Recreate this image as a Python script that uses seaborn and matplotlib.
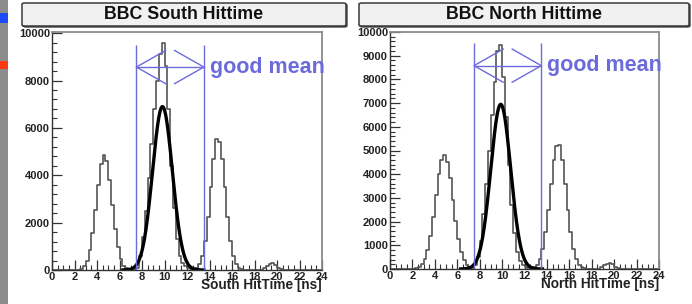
import numpy as np
import pandas as pd
import seaborn as sns
import matplotlib.pyplot as plt
from matplotlib.patches import FancyBboxPatch, Rectangle
from matplotlib.ticker import MultipleLocator

W, H = 692, 304

# histogram binning: 0.25 ns bins from 0 to 24 ns
BIN_WIDTH = 0.25
BIN_CENTERS = np.arange(96) * BIN_WIDTH + BIN_WIDTH / 2

SOUTH_COUNTS = [
    0, 0, 0, 0, 0, 0, 0, 0,                          # 0-2 ns
    0, 0, 40, 150, 390, 840, 1550, 2530,             # 2-4
    3600, 4470, 4850, 4590, 3800, 2750, 1740, 960,   # 4-6
    460, 190, 70, 25, 8, 10, 100, 600,               # 6-8
    1400, 2500, 3900, 5300, 6800, 8000, 9100, 9600,  # 8-10
    8600, 6800, 4400, 2600, 1300, 600, 300, 150,     # 10-12
    80, 40, 45, 100, 243, 590, 1230, 2240,           # 12-14
    3500, 4700, 5550, 5400, 4700, 3500, 2240, 1230,  # 14-16
    590, 243, 86, 26, 8, 0, 0, 0,                    # 16-18
    0, 0, 20, 80, 170, 260, 280, 200,                # 18-20
    90, 30, 0, 0, 0, 0, 0, 0,                        # 20-22
    0, 0, 0, 0, 0, 0, 0, 0,                          # 22-24
]

NORTH_COUNTS = [
    0, 0, 0, 0, 0, 0, 0, 0,                          # 0-2 ns
    0, 30, 82, 195, 416, 803, 1398, 2199,            # 2-4
    3115, 3990, 4605, 4800, 4510, 3830, 2930, 2025,  # 4-6
    1262, 710, 361, 165, 68, 60, 170, 520,           # 6-8
    1200, 2300, 3600, 5000, 6500, 7900, 9200, 9450,  # 8-10
    8100, 6400, 4400, 2700, 1500, 700, 330, 160,     # 10-12
    80, 60, 40, 67, 177, 412, 848, 1550,             # 12-14
    2510, 3600, 4580, 5200, 5250, 4580, 3600, 2510,  # 14-16
    1550, 848, 412, 177, 67, 22, 0, 0,               # 16-18
    0, 0, 20, 70, 150, 230, 260, 200,                # 18-20
    100, 30, 0, 0, 0, 0, 0, 0,                       # 20-22
    0, 0, 0, 0, 0, 0, 0, 0,                          # 22-24
]

# gaussian fit parameters: amplitude, mean, sigma, fit range
SOUTH_FIT = (6900, 9.82, 0.88, 6.3, 13.5)
NORTH_FIT = (6950, 9.88, 0.89, 6.3, 13.6)

# "good mean" window
CUT_LO, CUT_HI = 7.5, 13.5

TITLES = ["BBC South Hittime", "BBC North Hittime"]
XLABELS = ["South HitTime [ns]", "North HitTime [ns]"]

BLUE = "#6b6bdc"

plt.rcParams['font.family'] = ['Liberation Sans', 'DejaVu Sans']


def px_rect(x0, y0, x1, y1):
    """pixel box (top-left origin) -> figure fraction rect"""
    return [x0 / W, 1 - y1 / H, (x1 - x0) / W, (y1 - y0) / H]


def draw_panel(ax, counts, fit, ymax, ymajor, yminor, arrow_y, top_y, xlabel):
    df = pd.DataFrame({"t": BIN_CENTERS, "n": counts})
    sns.histplot(data=df, x="t", weights="n", binwidth=BIN_WIDTH, binrange=(0, 24),
                 element="step", fill=False, color="#555555", linewidth=1.2, ax=ax)

    amp, mean, sigma, lo, hi = fit
    t = np.linspace(lo, hi, 400)
    g = amp * np.exp(-0.5 * ((t - mean) / sigma) ** 2)
    sns.lineplot(x=t, y=g, color="black", linewidth=2.4, ax=ax)

    # cut window with double arrow
    ax.vlines([CUT_LO, CUT_HI], 0, top_y, color=BLUE, linewidth=1.0)
    ax.plot([CUT_LO, CUT_HI], [arrow_y, arrow_y], color=BLUE, linewidth=1.0)
    L, dy = 2.6, 700
    for tip, sgn in [(CUT_LO, 1), (CUT_HI, -1)]:
        ax.plot([tip + sgn * L, tip, tip + sgn * L],
                [arrow_y + dy, arrow_y, arrow_y - dy], color=BLUE, linewidth=1.0)
    ax.text(14.0, arrow_y, "good mean", color=BLUE, fontsize=15.5,
            fontweight="bold", va="center", ha="left", clip_on=False)

    ax.set_xlim(0, 24)
    ax.set_ylim(0, ymax)
    ax.xaxis.set_major_locator(MultipleLocator(2))
    ax.xaxis.set_minor_locator(MultipleLocator(0.5))
    ax.yaxis.set_major_locator(MultipleLocator(ymajor))
    ax.yaxis.set_minor_locator(MultipleLocator(yminor))
    ax.tick_params(which="both", direction="in", top=False, right=False,
                   color="#333333")
    ax.tick_params(which="major", length=7, width=0.9, labelsize=8, pad=1.5)
    ax.tick_params(which="minor", length=3.5, width=0.8)
    for lab in ax.get_xticklabels() + ax.get_yticklabels():
        lab.set_fontweight("bold")
        lab.set_color("#222222")
    ax.set_xlabel("")
    ax.set_ylabel("")
    for side in ["left", "bottom"]:
        ax.spines[side].set_color("#333333")
        ax.spines[side].set_linewidth(1.0)
    for side in ["top", "right"]:
        ax.spines[side].set_color("#8a8a8a")
        ax.spines[side].set_linewidth(1.3)
    ax.text(1.0, -0.062, xlabel, transform=ax.transAxes, ha="right", va="center",
            fontsize=9.8, fontweight="bold", color="#222222")


fig = plt.figure(figsize=(W / 100, H / 100), dpi=100)
fig.patch.set_facecolor("white")

ax_s = fig.add_axes(px_rect(52, 32, 322, 270))
ax_n = fig.add_axes(px_rect(390, 32, 659, 269))

draw_panel(ax_s, SOUTH_COUNTS, SOUTH_FIT, 10050, 2000, 400, 8570, 9520, XLABELS[0])
draw_panel(ax_n, NORTH_COUNTS, NORTH_FIT, 10000, 1000, 200, 8580, 9520, XLABELS[1])

# title boxes (with a thin dark shadow on the lower/right edge, ROOT style)
for (x0, x1), title in zip([(22, 346), (359, 689)], TITLES):
    s = px_rect(x0 + 1, 4, x1 + 1, 27)
    fig.add_artist(FancyBboxPatch((s[0], s[1]), s[2], s[3],
                                  boxstyle="round,pad=0,rounding_size=0.004",
                                  transform=fig.transFigure, facecolor="#444444",
                                  edgecolor="#444444", linewidth=1.0))
    r = px_rect(x0, 3, x1, 26)
    fig.add_artist(FancyBboxPatch((r[0], r[1]), r[2], r[3],
                                  boxstyle="round,pad=0,rounding_size=0.004",
                                  transform=fig.transFigure, facecolor="#f1f1f1",
                                  edgecolor="#3a3a3a", linewidth=1.1))
    fig.text(r[0] + r[2] / 2, r[1] + r[3] / 2, title, ha="center", va="center",
             fontsize=12.8, fontweight="bold", color="#111111")

# gray strip on the left edge with coloured marks
fig.add_artist(Rectangle((0, 0), 8 / W, 1, transform=fig.transFigure,
                         facecolor="#8c8c8c", edgecolor="none"))
r = px_rect(0, 13, 8, 23)
fig.add_artist(Rectangle((r[0], r[1]), r[2], r[3], transform=fig.transFigure,
                         facecolor="#1d4cff", edgecolor="none"))
r = px_rect(0, 61, 8, 69)
fig.add_artist(Rectangle((r[0], r[1]), r[2], r[3], transform=fig.transFigure,
                         facecolor="#ff3a12", edgecolor="none"))

fig.savefig("out.png", dpi=100)
